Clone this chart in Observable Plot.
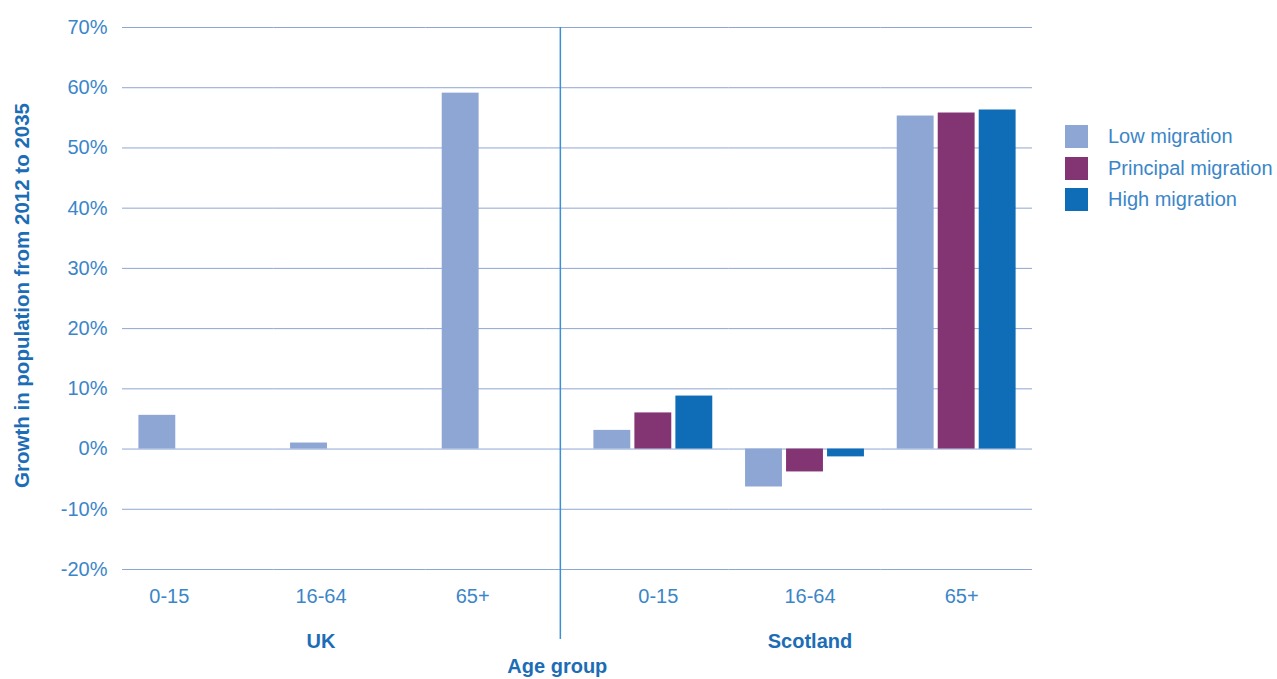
<!DOCTYPE html>
<html>
<head>
<meta charset="utf-8">
<script src="https://cdn.jsdelivr.net/npm/d3@7"></script>
<script src="https://cdn.jsdelivr.net/npm/@observablehq/plot@0.6"></script>
<style>
  body { margin: 0; background: #fff; font-family: "Liberation Sans", Arial, sans-serif; }
  #wrap { position: relative; width: 1277px; height: 679px; }
  #legend { position: absolute; left: 1065px; top: 121px; }
  .item { display: flex; align-items: center; height: 31.5px; font-size: 20px; color: #3b86c8; white-space: nowrap; }
  .sw { width: 23px; height: 23px; margin-right: 20px; flex: none; }
</style>
</head>
<body>
<div id="wrap"><div id="legend"></div></div>
<script>
// Projected growth in population, 2012 to 2035 (%)
const regions = ["UK", "Scotland"];
const ageGroups = ["0-15", "16-64", "65+"];
const scenarios = ["Low migration", "Principal migration", "High migration"];
const scenarioColors = ["#8ea6d4", "#833472", "#0e6db6"];

// UK is shown for a single projection only
const ukLow = [5.6, 1.0, 59.1];
const scotlandLow = [3.1, -6.3, 55.3];
const scotlandPrincipal = [6.0, -3.8, 55.8];
const scotlandHigh = [8.8, -1.3, 56.3];

const yTicks = [-20, -10, 0, 10, 20, 30, 40, 50, 60, 70];

const tickColor = "#3b86c8";
const titleColor = "#1c6db5";

const series = {
  UK: [ukLow, null, null],
  Scotland: [scotlandLow, scotlandPrincipal, scotlandHigh]
};

const rows = [];
for (const region of regions) {
  series[region].forEach((values, s) => {
    if (!values) return;
    ageGroups.forEach((age, a) => {
      rows.push({region, age, key: region + "|" + age, scenario: scenarios[s], value: values[a]});
    });
  });
}

const keys = regions.flatMap(r => ageGroups.map(a => r + "|" + a));
const ageOf = k => k.split("|")[1];
const ukKeys = keys.filter(k => k.startsWith("UK|"));
const scotKeys = keys.filter(k => k.startsWith("Scotland|"));

const chart = Plot.plot({
  width: 1277,
  height: 679,
  marginLeft: 122,
  marginRight: 245,
  marginTop: 27,
  marginBottom: 110,
  style: {fontFamily: "Liberation Sans, Arial, sans-serif", background: "#fff"},
  fx: {domain: keys, padding: 0, round: false, axis: null},
  x: {domain: scenarios, paddingInner: 0.1, paddingOuter: 0.4, round: false, axis: null},
  y: {domain: [-20, 70], axis: null},
  color: {domain: scenarios, range: scenarioColors},
  marks: [
    Plot.gridY(yTicks, {stroke: "#8ea6d4", strokeOpacity: 1, strokeWidth: 1}),
    Plot.barY(rows, {fx: "key", x: "scenario", y: "value", fill: "scenario"}),
    // y axis ticks (left-most facet only)
    Plot.axisY(yTicks, {
      facetAnchor: "left", anchor: "left", tickSize: 0, tickPadding: 15,
      tickFormat: d => d + "%", fontSize: 20, fill: tickColor, label: null
    }),
    Plot.text(["Growth in population from 2012 to 2035"], {
      fx: () => keys[0], frameAnchor: "left", textAnchor: "middle", dx: -100, dy: -3, rotate: -90,
      fontSize: 20.5, fontWeight: "bold", fill: titleColor, text: d => d
    }),
    // age-group tick labels
    Plot.axisFx({
      anchor: "bottom", ticks: ukKeys, tickFormat: ageOf, tickSize: 0, tickPadding: 19,
      dx: -29, fontSize: 20, fill: tickColor, label: null
    }),
    Plot.axisFx({
      anchor: "bottom", ticks: scotKeys, tickFormat: ageOf, tickSize: 0, tickPadding: 19,
      dx: 5, fontSize: 20, fill: tickColor, label: null
    }),
    // region labels under the middle age group
    Plot.text(["UK"], {
      fx: () => "UK|16-64", frameAnchor: "bottom", dy: 78, dx: -29,
      fontSize: 20, fontWeight: "bold", fill: titleColor, text: d => d
    }),
    Plot.text(["Scotland"], {
      fx: () => "Scotland|16-64", frameAnchor: "bottom", dy: 78, dx: 5,
      fontSize: 20, fontWeight: "bold", fill: titleColor, text: d => d
    }),
    // divider between regions
    Plot.ruleX(["Low migration"], {
      fx: () => "Scotland|0-15", x: d => d, dx: -52, insetBottom: -70,
      stroke: "#3b8fd6", strokeWidth: 1.5
    }),
    Plot.text(["Age group"], {
      fx: () => "Scotland|0-15", x: () => "Low migration",
      frameAnchor: "bottom", dy: 103, dx: -55,
      fontSize: 20, fontWeight: "bold", fill: titleColor, text: d => d
    })
  ]
});

document.getElementById("wrap").prepend(chart);

const legend = document.getElementById("legend");
scenarios.forEach((name, i) => {
  const item = document.createElement("div");
  item.className = "item";
  const sw = document.createElement("span");
  sw.className = "sw";
  sw.style.background = scenarioColors[i];
  item.appendChild(sw);
  item.appendChild(document.createTextNode(name));
  legend.appendChild(item);
});
</script>
</body>
</html>
